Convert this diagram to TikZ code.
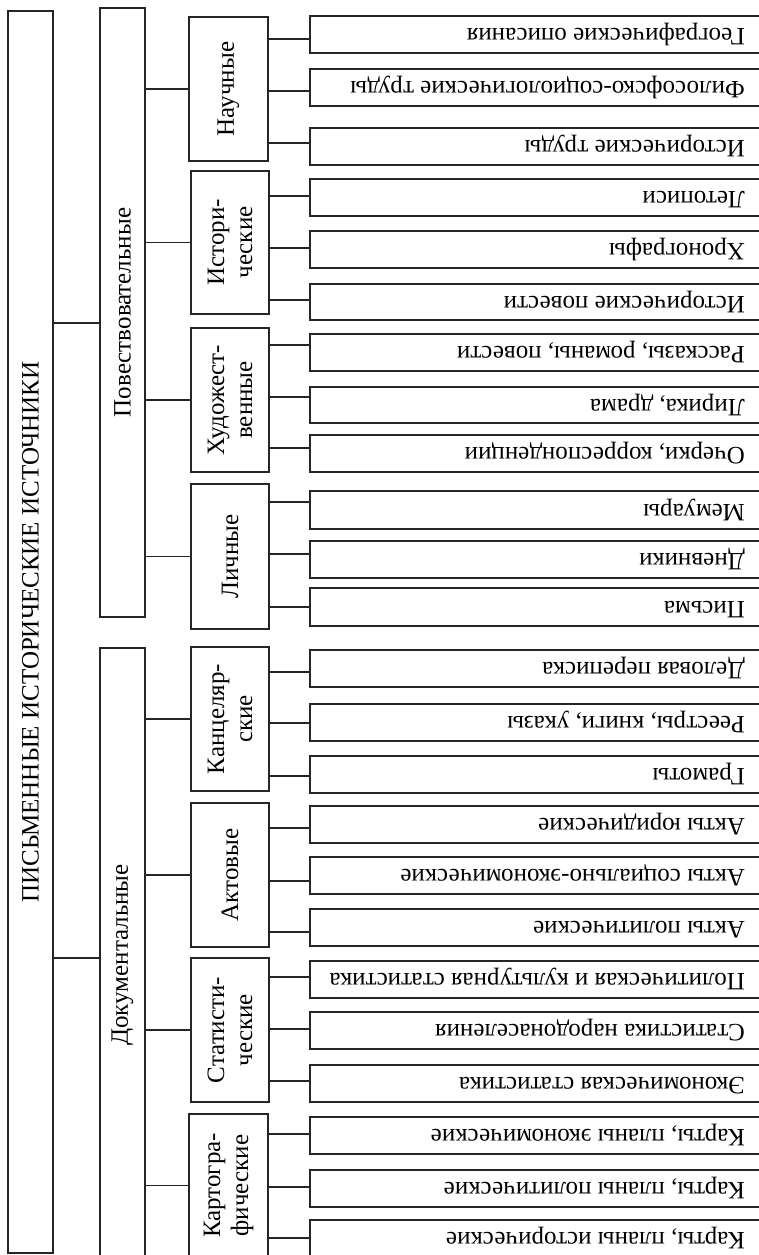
\documentclass[tikz,border=0pt]{standalone}
\usepackage{fontspec}
\setmainfont{Liberation Serif}
\usetikzlibrary{fit}
\tikzset{
  frame/.style={draw=black!85, line width=1.2pt, inner sep=0pt},
  lbl/.style={font=\fontsize{25}{28}\selectfont, inner sep=0pt, align=center},
  leaftxt/.style={font=\fontsize{25}{28}\selectfont, inner sep=0pt, rotate=180, anchor=west, text height=17.5pt, text depth=5.5pt},
  link/.style={draw=black!85, line width=1.2pt},
}
\newcommand\mkbox[5]{\path (#2,#3) coordinate (#1-a) (#4,#5) coordinate (#1-b); \node[frame, fit=(#1-a)(#1-b)] (#1) {};}
\newcommand\mkleaf[6]{\mkbox{#1}{310}{#2}{790}{#3}
  \node[leaftxt] (#1-t) at (745,{(#2+#3)/2}) {#6};
  \coordinate (#1-c) at (0,#4);
  \draw[link] (#5.east |- #1-c) -- (#1.west |- #1-c);}
\begin{document}
\begin{tikzpicture}[x=1pt,y=-1pt]
\useasboundingbox (0,0) rectangle (759,1255);
\clip (0,0) rectangle (759,1255);
\fill[white] (0,0) rectangle (759,1255);
% level 1
\mkbox{title}{8}{11}{53}{1253}
\node[lbl, rotate=90] (title-t) at (title.center) {ПИСЬМЕННЫЕ ИСТОРИЧЕСКИЕ ИСТОЧНИКИ};
% level 2
\mkbox{pov}{100}{8}{145}{617}
\node[lbl, rotate=90] (pov-t) at (pov.center) {Повествовательные};
\mkbox{doc}{100}{648}{145}{1262}
\node[lbl, rotate=90] (doc-t) at (doc.center) {Документальные};
\coordinate (j1) at (0,323);
\coordinate (j2) at (0,958);
\draw[link] (title.east |- j1) -- (pov.west |- j1);
\draw[link] (title.east |- j2) -- (doc.west |- j2);
% level 3
\mkbox{nauch}{189}{17}{268}{161}
\node[lbl, rotate=90] (nauch-t) at (nauch.center) {Научные};
\mkbox{istor}{191}{171}{269}{314}
\node[lbl, rotate=90] (istor-t) at (istor.center) {Истори-\\ческие};
\mkbox{hud}{191}{328}{269}{472}
\node[lbl, rotate=90] (hud-t) at (hud.center) {Художест-\\венные};
\mkbox{lich}{191}{484}{269}{629}
\node[lbl, rotate=90] (lich-t) at (lich.center) {Личные};
\mkbox{kanc}{191}{647}{269}{791}
\node[lbl, rotate=90] (kanc-t) at (kanc.center) {Канцеляр-\\ские};
\mkbox{akt}{191}{803}{269}{947}
\node[lbl, rotate=90] (akt-t) at (akt.center) {Актовые};
\mkbox{stat}{191}{958}{269}{1102}
\node[lbl, rotate=90] (stat-t) at (stat.center) {Статисти-\\ческие};
\mkbox{kart}{189}{1114}{268}{1257}
\node[lbl, rotate=90] (kart-t) at (kart.center) {Картогра-\\фические};
\foreach \n in {nauch,istor,hud,lich} \draw[link] (\n.west) -- (\n.west -| pov.east);
\foreach \n in {kanc,akt,stat,kart} \draw[link] (\n.west) -- (\n.west -| doc.east);
% leaves
\mkleaf{l1}{16}{53}{39}{nauch}{Географические описания}
\mkleaf{l2}{69}{106}{91}{nauch}{Философско-социологические труды}
\mkleaf{l3}{128}{165}{143}{nauch}{Исторические труды}
\mkleaf{l4}{179}{216}{196}{istor}{Летописи}
\mkleaf{l5}{231}{268}{248}{istor}{Хронографы}
\mkleaf{l6}{284}{320}{300}{istor}{Исторические повести}
\mkleaf{l7}{334}{371}{345}{hud}{Рассказы, романы, повести}
\mkleaf{l8}{387}{423}{397}{hud}{Лирика, драма}
\mkleaf{l9}{435}{472}{448}{hud}{Очерки, корреспонденции}
\mkleaf{l10}{491}{529}{502}{lich}{Мемуары}
\mkleaf{l11}{541}{578}{554}{lich}{Дневники}
\mkleaf{l12}{588}{626}{607}{lich}{Письма}
\mkleaf{l13}{650}{687}{672}{kanc}{Деловая переписка}
\mkleaf{l14}{704}{741}{723}{kanc}{Реестры, книги, указы}
\mkleaf{l15}{756}{793}{776}{kanc}{Грамоты}
\mkleaf{l16}{806}{843}{828}{akt}{Акты юридические}
\mkleaf{l17}{857}{894}{881}{akt}{Акты социально-экономические}
\mkleaf{l18}{909}{946}{932}{akt}{Акты политические}
\mkleaf{l19}{961}{998}{977}{stat}{Политическая и культурная статистика}
\mkleaf{l20}{1012}{1049}{1029}{stat}{Статистика народонаселения}
\mkleaf{l21}{1065}{1102}{1081}{stat}{Экономическая статистика}
\mkleaf{l22}{1117}{1154}{1134}{kart}{Карты, планы экономические}
\mkleaf{l23}{1170}{1207}{1187}{kart}{Карты, планы политические}
\mkleaf{l24}{1220}{1257}{1238}{kart}{Карты, планы исторические}
\end{tikzpicture}
\end{document}
